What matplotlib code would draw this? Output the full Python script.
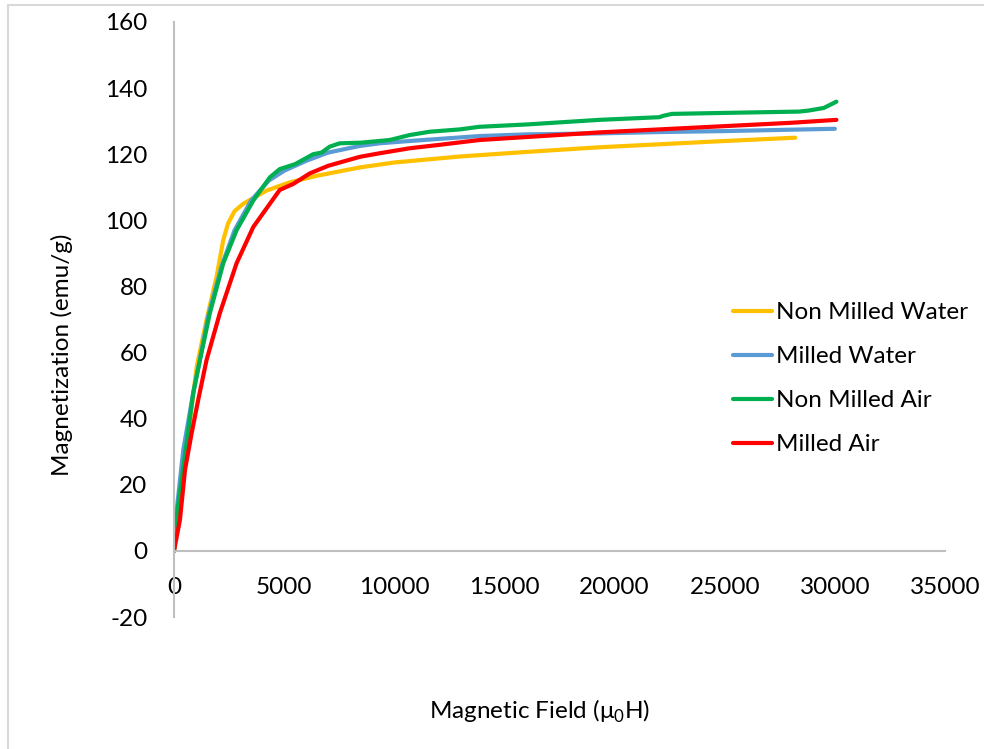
import matplotlib

matplotlib.use("Agg")
import matplotlib.pyplot as plt
from matplotlib.patches import Rectangle

plt.rcParams["font.family"] = ["Lato", "DejaVu Sans"]
plt.rcParams["axes.unicode_minus"] = False
plt.rcParams["mathtext.fontset"] = "custom"
plt.rcParams["mathtext.rm"] = "Lato"

# ── data ────────────────────────────────────────────────────────────────────
nmw_x = [0, 300, 700, 1030, 1480, 1935, 2235, 2450, 2750, 3140, 4200, 5260,
         6500, 8430, 10000, 12960, 16000, 19310, 22000, 25000, 28200]
nmw_y = [0, 15, 38, 55.7, 70, 83, 94, 99, 102.8, 105, 109, 111.5,
         113.5, 116, 117.5, 119.3, 120.7, 122.1, 123, 124, 125]

mw_x = [0, 150, 420, 850, 1150, 1550, 2150, 2750, 3500, 4300, 5000, 6000,
        7000, 8430, 9340, 10700, 13870, 16000, 19310, 22000, 25000, 30000]
mw_y = [0, 14, 30.5, 47, 57, 71, 86, 97, 106, 112, 115, 118,
        120.5, 122.5, 123.3, 124, 125.5, 126, 126.3, 126.7, 127, 127.7]

nma_x = [0, 150, 500, 875, 1180, 1630, 2235, 2840, 3600, 4350, 4800, 5500,
         6315, 6700, 7070, 7520, 8500, 9790, 10700, 11600, 12960, 13870,
         16000, 19310, 22030, 22200, 22600, 25000, 28380, 28800, 29500, 30070]
nma_y = [0, 12, 29, 47.8, 57.8, 72, 87, 97, 106, 113, 115.5, 117,
         120, 120.5, 122.3, 123.3, 123.5, 124.3, 125.8, 126.8, 127.5, 128.3,
         129, 130.4, 131.2, 131.6, 132.2, 132.5, 132.9, 133.2, 134, 135.9]

ma_x = [0, 270, 500, 800, 1100, 1480, 2085, 2840, 3600, 4350, 4800, 5410,
        6165, 7000, 8430, 9340, 10700, 12000, 13870, 16000, 19310, 22000,
        25000, 28000, 30070]
ma_y = [0, 9.4, 24.5, 35.6, 45.7, 57.8, 72, 87, 98, 105, 109.2, 111,
        114.2, 116.5, 119.2, 120.3, 121.8, 122.8, 124.3, 125.2, 126.6, 127.5,
        128.5, 129.5, 130.4]

series = [
    ("Non Milled Water", nmw_x, nmw_y, "#FFC000"),
    ("Milled Water", mw_x, mw_y, "#5B9BD5"),
    ("Non Milled Air", nma_x, nma_y, "#00B050"),
    ("Milled Air", ma_x, ma_y, "#FF0000"),
]

FS = 17.5

fig = plt.figure(figsize=(9.84, 7.49), dpi=100)
ax = fig.add_axes([174 / 984, 132 / 749, 771 / 984, 595 / 749])

for name, xs, ys, c in series:
    ax.plot(xs, ys, color=c, linewidth=3, label=name, solid_capstyle="round")

ax.set_xlim(0, 35000)
ax.set_ylim(-20, 160)
ax.set_xticks(range(0, 35001, 5000))
ax.set_yticks(range(-20, 161, 20))

ax.spines[["top", "right"]].set_visible(False)
ax.spines["left"].set_position(("data", 0))
ax.spines["bottom"].set_position(("data", 0))
for s in ("left", "bottom"):
    ax.spines[s].set_color("#bfbfbf")
    ax.spines[s].set_linewidth(1.5)
ax.tick_params(length=0, labelsize=FS, colors="#000000")
ax.tick_params(axis="x", pad=19)
ax.tick_params(axis="y", pad=19)

leg = ax.legend(loc="upper left", bbox_to_anchor=(733 / 984, 1 - 302 / 749),
                bbox_transform=fig.transFigure, frameon=False, fontsize=FS,
                handlelength=1.6, handletextpad=0.15, labelspacing=0.95,
                borderpad=0, borderaxespad=0)

fig.text(62 / 984, 1 - 355 / 749, "Magnetization (emu/g)", rotation=90,
         ha="center", va="center", fontsize=FS)
fig.text(540 / 984, 1 - 711 / 749, "Magnetic Field (μ$_0$H)",
         ha="center", va="center", fontsize=FS)

# light frame visible along the top and left edges
fig.patches.append(Rectangle((8 / 984, -0.2), 1.2, 0.2 + 744 / 749,
                             transform=fig.transFigure, fill=False,
                             edgecolor="#d9d9d9", linewidth=1.5))

fig.savefig("out.png", dpi=100)
